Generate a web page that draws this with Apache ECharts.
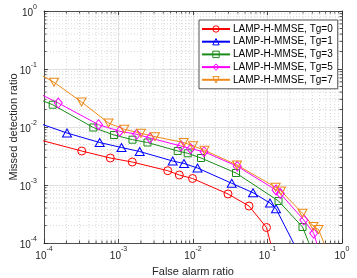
<!DOCTYPE html>
<html><head><meta charset="utf-8">
<script src="https://cdn.jsdelivr.net/npm/echarts@6/dist/echarts.min.js"></script>
<style>html,body{margin:0;padding:0;background:#fff}#c{width:357px;height:278px}</style>
</head><body><div id="c"></div>
<script>
// ---- data ----
const seriesNames = ['LAMP-H-MMSE, Tg=0','LAMP-H-MMSE, Tg=1','LAMP-H-MMSE, Tg=3','LAMP-H-MMSE, Tg=5','LAMP-H-MMSE, Tg=7'];
const tg0X = [6.49e-5, 3.21e-4, 7.76e-4, 1.53e-3, 4.58e-3, 6.55e-3, 9.85e-3, 2.95e-2, 5.65e-2, 9.70e-2, 0.126];
const tg0Y = [6.64e-3, 3.85e-3, 2.92e-3, 2.49e-3, 1.765e-3, 1.487e-3, 1.295e-3, 7.0e-4, 4.34e-4, 1.85e-4, 5.09e-5];
const tg1X = [6.49e-5, 2.035e-4, 5.59e-4, 1.097e-3, 1.926e-3, 5.34e-3, 7.57e-3, 1.149e-2, 3.31e-2, 6.39e-2, 0.108, 0.130, 0.274];
const tg1Y = [1.315e-2, 7.88e-3, 5.40e-3, 4.43e-3, 3.78e-3, 2.59e-3, 2.35e-3, 1.964e-3, 1.07e-3, 7.36e-4, 4.89e-4, 3.90e-4, 5.97e-5];
const tg3X = [6.49e-5, 1.309e-4, 4.59e-4, 8.70e-4, 1.541e-3, 2.45e-3, 6.23e-3, 8.49e-3, 1.281e-2, 3.78e-2, 0.1405, 0.295, 0.434];
const tg3Y = [3.45e-2, 2.42e-2, 9.80e-3, 7.28e-3, 6.04e-3, 5.40e-3, 3.86e-3, 3.52e-3, 2.92e-3, 1.61e-3, 5.30e-4, 1.887e-4, 5.51e-5];
const tg5X = [6.49e-5, 1.556e-4, 5.39e-4, 1.038e-3, 1.755e-3, 2.65e-3, 6.90e-3, 9.31e-3, 1.405e-2, 3.93e-2, 0.130, 0.1485, 0.307, 0.417, 0.507];
const tg5Y = [4.52e-2, 2.59e-2, 1.096e-2, 8.46e-3, 7.48e-3, 6.46e-3, 4.70e-3, 4.23e-3, 3.75e-3, 2.10e-3, 8.20e-4, 7.14e-4, 2.49e-4, 1.47e-4, 6.46e-5];
const tg7X = [6.49e-5, 1.362e-4, 3.19e-4, 7.34e-4, 1.196e-3, 2.00e-3, 3.09e-3, 7.50e-3, 1.0e-2, 1.427e-2, 3.90e-2, 0.1288, 0.1518, 0.295, 0.414, 0.484, 0.649];
const tg7Y = [0.1004, 5.90e-2, 2.70e-2, 1.172e-2, 9.13e-3, 7.79e-3, 6.81e-3, 5.40e-3, 4.74e-3, 3.97e-3, 2.21e-3, 9.13e-4, 7.88e-4, 3.25e-4, 1.925e-4, 1.71e-4, 6.72e-5];
const xTickExponents = [-4, -3, -2, -1, 0];
const yTickExponents = [-4, -3, -2, -1, 0];
const minorTickValues = [2e-4,3e-4,4e-4,5e-4,6e-4,7e-4,8e-4,9e-4,
  2e-3,3e-3,4e-3,5e-3,6e-3,7e-3,8e-3,9e-3,
  2e-2,3e-2,4e-2,5e-2,6e-2,7e-2,8e-2,9e-2,
  0.2,0.3,0.4,0.5,0.6,0.7,0.8,0.9];
const xName = 'False alarm ratio';
const yName = 'Missed detection ratio';

// ---- chart ----
const FONT = '"Liberation Sans", Arial, sans-serif';
const AX = '#262626';
const colors = ['#ff0000','#0000ff','#1a8c1a','#ff00ff','#ee8a19'];
const symbols = ['circle','triangle','rect','diamond','path://M0,0L2,0L1,1.75Z'];
const sizes = [8,[9,8],7,[8,10],[9,8]];
const xs = [tg0X,tg1X,tg3X,tg5X,tg7X];
const ys = [tg0Y,tg1Y,tg3Y,tg5Y,tg7Y];

function expLabel(exps){
  return function(v){
    const e = Math.round(Math.log10(v));
    const ex = exps.indexOf(e) >= 0 ? exps[exps.indexOf(e)] : e;
    return '{b|10}{s|' + ex + '}';
  };
}
const rich = {
  b:{fontSize:10, fontFamily:FONT, color:AX, lineHeight:15, verticalAlign:'bottom'},
  s:{fontSize:7, fontFamily:FONT, color:AX, lineHeight:15, verticalAlign:'top'}
};

function minorRender(isX){
  return function(params, api){
    const v = isX ? api.value(0) : api.value(1);
    let a, b;
    if (isX){ a = api.coord([v, 1]); b = api.coord([v, 1e-4]); }
    else { a = api.coord([1e-4, v]); b = api.coord([1, v]); }
    const ch = [{type:'line', shape:{x1:a[0],y1:a[1],x2:b[0],y2:b[1]},
      style:{stroke:'#cfcfcf', lineWidth:0.8, lineDash:[1,2]}, silent:true}];
    if (isX){
      ch.push({type:'line', shape:{x1:b[0],y1:b[1],x2:b[0],y2:b[1]-2.5}, style:{stroke:AX,lineWidth:0.8}});
      ch.push({type:'line', shape:{x1:a[0],y1:a[1],x2:a[0],y2:a[1]+2.5}, style:{stroke:AX,lineWidth:0.8}});
    } else {
      ch.push({type:'line', shape:{x1:a[0],y1:a[1],x2:a[0]+2.5,y2:a[1]}, style:{stroke:AX,lineWidth:0.8}});
      ch.push({type:'line', shape:{x1:b[0],y1:b[1],x2:b[0]-2.5,y2:b[1]}, style:{stroke:AX,lineWidth:0.8}});
    }
    return {type:'group', children:ch};
  };
}

const lineSeries = seriesNames.map((n,i)=>({
  name:n, type:'line', xAxisIndex:0, yAxisIndex:0,
  data: xs[i].map((x,j)=>[x, ys[i][j]]),
  symbol: symbols[i], symbolSize: sizes[i], showAllSymbol:true,
  lineStyle:{color:colors[i], width:1},
  itemStyle:{color:'rgba(255,255,255,0)', borderColor:colors[i], borderWidth:1},
  emphasis:{disabled:true}, clip:true, z:5
}));

const commonAxis = {
  type:'log', logBase:10, min:1e-4, max:1,
  axisLine:{show:true, onZero:false, lineStyle:{color:AX, width:0.8}},
  axisTick:{show:true, inside:true, length:4, lineStyle:{color:AX, width:0.8}},
};

const option = {
  animation:false,
  backgroundColor:'#fff',
  grid:{left:44, right:15, top:11, bottom:35, containLabel:false, outerBoundsMode:'none'},
  xAxis:[
    Object.assign({}, commonAxis, {position:'bottom',
      name:xName, nameLocation:'middle', nameGap:23, nameMoveOverlap:false,
      nameTextStyle:{fontSize:11, fontFamily:FONT, color:AX},
      axisLabel:{formatter:expLabel(xTickExponents), rich:rich, margin:3, color:AX},
      splitLine:{show:true, lineStyle:{color:'#e0e0e0', width:1}}}),
    Object.assign({}, commonAxis, {position:'top', axisLabel:{show:false}, splitLine:{show:false}})
  ],
  yAxis:[
    Object.assign({}, commonAxis, {position:'left',
      name:yName, nameLocation:'middle', nameGap:25, nameRotate:90, nameMoveOverlap:false,
      nameTextStyle:{fontSize:11, fontFamily:FONT, color:AX},
      axisLabel:{formatter:expLabel(yTickExponents), rich:rich, margin:7, color:AX},
      splitLine:{show:true, lineStyle:{color:'#e0e0e0', width:1}}}),
    Object.assign({}, commonAxis, {position:'right', axisLabel:{show:false}, splitLine:{show:false}})
  ],
  legend:{
    data:seriesNames.map((n,i)=>({name:n, itemStyle:{color:'rgba(255,255,255,0)', borderColor:colors[i], borderWidth:1}})),
    orient:'vertical', left:199, top:20,
    itemWidth:28, itemHeight:8, itemGap:0.7,
    padding:[3,5,3,2],
    backgroundColor:'#fff', borderColor:AX, borderWidth:0.8,
    textStyle:{fontSize:10, fontFamily:FONT, color:'#000', lineHeight:12, padding:[0,0,0,-2]},
    selectedMode:false
  },
  series:[
    {type:'custom', renderItem:minorRender(true), data:minorTickValues.map(v=>[v,0.01]), z:1, silent:true, clip:false},
    {type:'custom', renderItem:minorRender(false), data:minorTickValues.map(v=>[0.01,v]), z:1, silent:true, clip:false}
  ].concat(lineSeries)
};
const chart = echarts.init(document.getElementById('c'), null, {renderer:'canvas'});
chart.setOption(option);
</script>
</body></html>
